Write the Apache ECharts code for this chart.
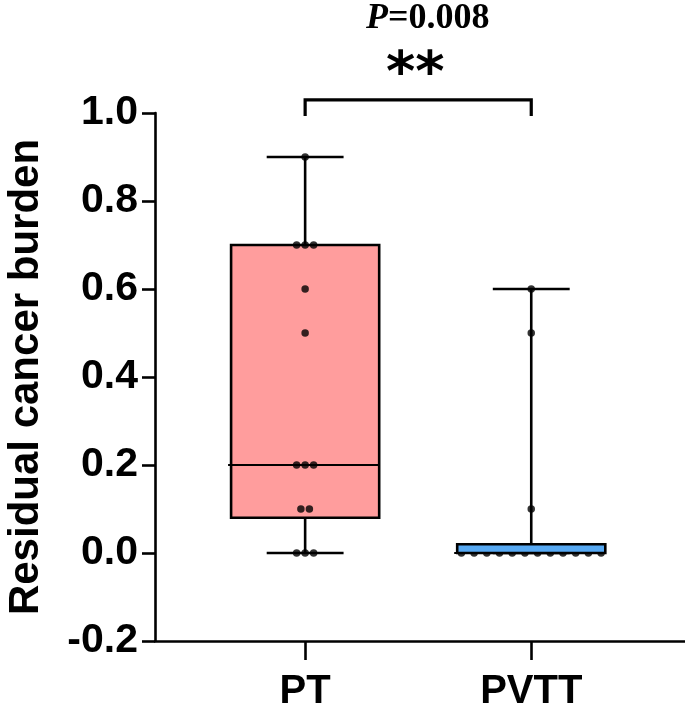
<!DOCTYPE html>
<html>
<head>
<meta charset="utf-8">
<script src="https://cdn.jsdelivr.net/npm/echarts@6/dist/echarts.min.js"></script>
<style>html,body{margin:0;padding:0;background:#fff}#c{width:685px;height:704px}</style>
</head>
<body>
<div id="c"></div>
<script>
// ---- data ----
const categories = ['PT', 'PVTT'];
const ptValues = [0.9, 0.7, 0.7, 0.7, 0.6, 0.5, 0.2, 0.2, 0.2, 0.1, 0.1, 0, 0, 0];
const pvttValues = [0.6, 0.5, 0.1, 0, 0, 0, 0, 0, 0, 0, 0, 0, 0, 0, 0];
// [min, Q1, median, Q3, max]
const ptBox = [0, 0.08, 0.2, 0.7, 0.9];
const pvttBox = [0, 0, 0, 0.02, 0.6];
const yTicks = [-0.2, 0, 0.2, 0.4, 0.6, 0.8, 1.0];
const pText = '0.008';
const starText = '**';
const bracket = [1, 2, 1.03, 0.993]; // from group, to group, top y, tip y

const boxColors = ['#FF9D9D', '#57A9F3'];
const groups = [ptValues, pvttValues];
const boxes = [ptBox, pvttBox];

// scatter points with spread offsets for tied values
const scatterData = [];
groups.forEach((vals, gi) => {
  const counts = {};
  vals.forEach(v => { counts[v] = (counts[v] || 0) + 1; });
  const seen = {};
  vals.forEach(v => {
    const n = counts[v];
    const k = seen[v] = (seen[v] === undefined ? 0 : seen[v] + 1);
    const sp = n > 5 ? 12.7 : 8.5;
    scatterData.push({ value: [gi + 1, v], symbolOffset: [(k - (n - 1) / 2) * sp, 0] });
  });
});

const BOX_W = 0.655, CAP_W = 0.34, LW = 2.6;
const FONT = 'Liberation Sans';

function boxRender(params, api) {
  const x = api.value(0);
  const mn = api.value(1), q1 = api.value(2), md = api.value(3), q3 = api.value(4), mx = api.value(5);
  const gi = x - 1;
  const bw = api.size([BOX_W, 0])[0];
  const cw = api.size([CAP_W, 0])[0];
  const c = api.coord([x, 0])[0];
  const yMn = api.coord([x, mn])[1], yQ1 = api.coord([x, q1])[1], yMd = api.coord([x, md])[1];
  const yQ3 = api.coord([x, q3])[1], yMx = api.coord([x, mx])[1];
  const ls = { stroke: '#000', lineWidth: LW };
  return {
    type: 'group',
    children: [
      { type: 'line', shape: { x1: c, y1: yMx, x2: c, y2: yQ3 }, style: ls, z2: 1 },
      { type: 'line', shape: { x1: c, y1: yQ1, x2: c, y2: yMn }, style: ls, z2: 1 },
      { type: 'line', shape: { x1: c - cw / 2, y1: yMx, x2: c + cw / 2, y2: yMx }, style: ls, z2: 1 },
      { type: 'line', shape: { x1: c - cw / 2, y1: yMn, x2: c + cw / 2, y2: yMn }, style: ls, z2: 1 },
      { type: 'rect', shape: { x: c - bw / 2, y: yQ3, width: bw, height: yQ1 - yQ3 },
        style: { fill: boxColors[gi], stroke: '#000', lineWidth: LW }, z2: 2 },
      { type: 'line', shape: { x1: c - bw / 2 - 3, y1: yMd, x2: c + bw / 2, y2: yMd },
        style: { stroke: '#000', lineWidth: 1.8 }, z2: 3 }
    ]
  };
}

const option = {
  animation: false,
  backgroundColor: '#fff',
  grid: { left: 155, right: 0, top: 113, bottom: 63, containLabel: false, outerBoundsMode: 'none' },
  xAxis: {
    type: 'value', min: 0.336, max: 2.68,
    splitLine: { show: false },
    axisLine: { show: true, onZero: false, lineStyle: { color: '#000', width: LW } },
    axisTick: { show: true, customValues: [1, 2], length: 19, lineStyle: { color: '#000', width: LW } },
    axisLabel: {
      customValues: [1, 2], margin: 31,
      formatter: v => categories[Math.round(v) - 1] || '',
      fontFamily: FONT, fontWeight: 'bold', fontSize: 40, color: '#000'
    }
  },
  yAxis: {
    type: 'value', min: -0.2, max: 1.0, interval: 0.2,
    splitLine: { show: false },
    axisLine: { show: true, lineStyle: { color: '#000', width: LW } },
    axisTick: { show: true, length: 13, lineStyle: { color: '#000', width: LW } },
    axisLabel: {
      margin: 17, formatter: v => v.toFixed(1),
      fontFamily: FONT, fontWeight: 'bold', fontSize: 41, color: '#000'
    },
    name: 'Residual cancer burden', nameLocation: 'middle', nameRotate: 90, nameGap: 108,
    nameTextStyle: { fontFamily: FONT, fontWeight: 'bold', fontSize: 42, color: '#000' }
  },
  series: [
    { type: 'custom', z: 1, renderItem: boxRender, encode: { x: 0, y: [1, 2, 3, 4, 5] },
      data: [[1].concat(ptBox)] },
    { type: 'scatter', z: 2, symbol: 'circle', symbolSize: 7.5, itemStyle: { color: '#000' },
      data: scatterData },
    { type: 'custom', z: 3, renderItem: boxRender, encode: { x: 0, y: [1, 2, 3, 4, 5] },
      data: [[2].concat(pvttBox)] },
    { type: 'custom', z: 4, clip: false, encode: { x: [0, 1], y: [2, 3] },
      data: [bracket],
      renderItem: (params, api) => {
        const a = api.coord([api.value(0), api.value(2)]);
        const b = api.coord([api.value(1), api.value(2)]);
        const tip = api.coord([api.value(0), api.value(3)])[1];
        return { type: 'polyline',
          shape: { points: [[a[0], tip], [a[0], a[1]], [b[0], b[1]], [b[0], tip]] },
          style: { stroke: '#000', lineWidth: 3.2, fill: null } };
      } }
  ],
  graphic: [
    { type: 'text', left: 366, top: 1, style: {
      text: '{i|P}{n|=' + pText + '}',
      rich: {
        i: { fontFamily: 'Liberation Serif', fontStyle: 'italic', fontWeight: 'bold', fontSize: 36, fill: '#000' },
        n: { fontFamily: 'Liberation Serif', fontWeight: 'bold', fontSize: 36, fill: '#000' }
      } } },
    { type: 'text', left: 386, top: 47, style: {
      text: starText, fontFamily: 'DejaVu Sans', fontWeight: 'bold', fontSize: 56, fill: '#000' } }
  ]
};
const chart = echarts.init(document.getElementById('c'), null, { renderer: 'canvas' });
chart.setOption(option);
</script>
</body>
</html>
